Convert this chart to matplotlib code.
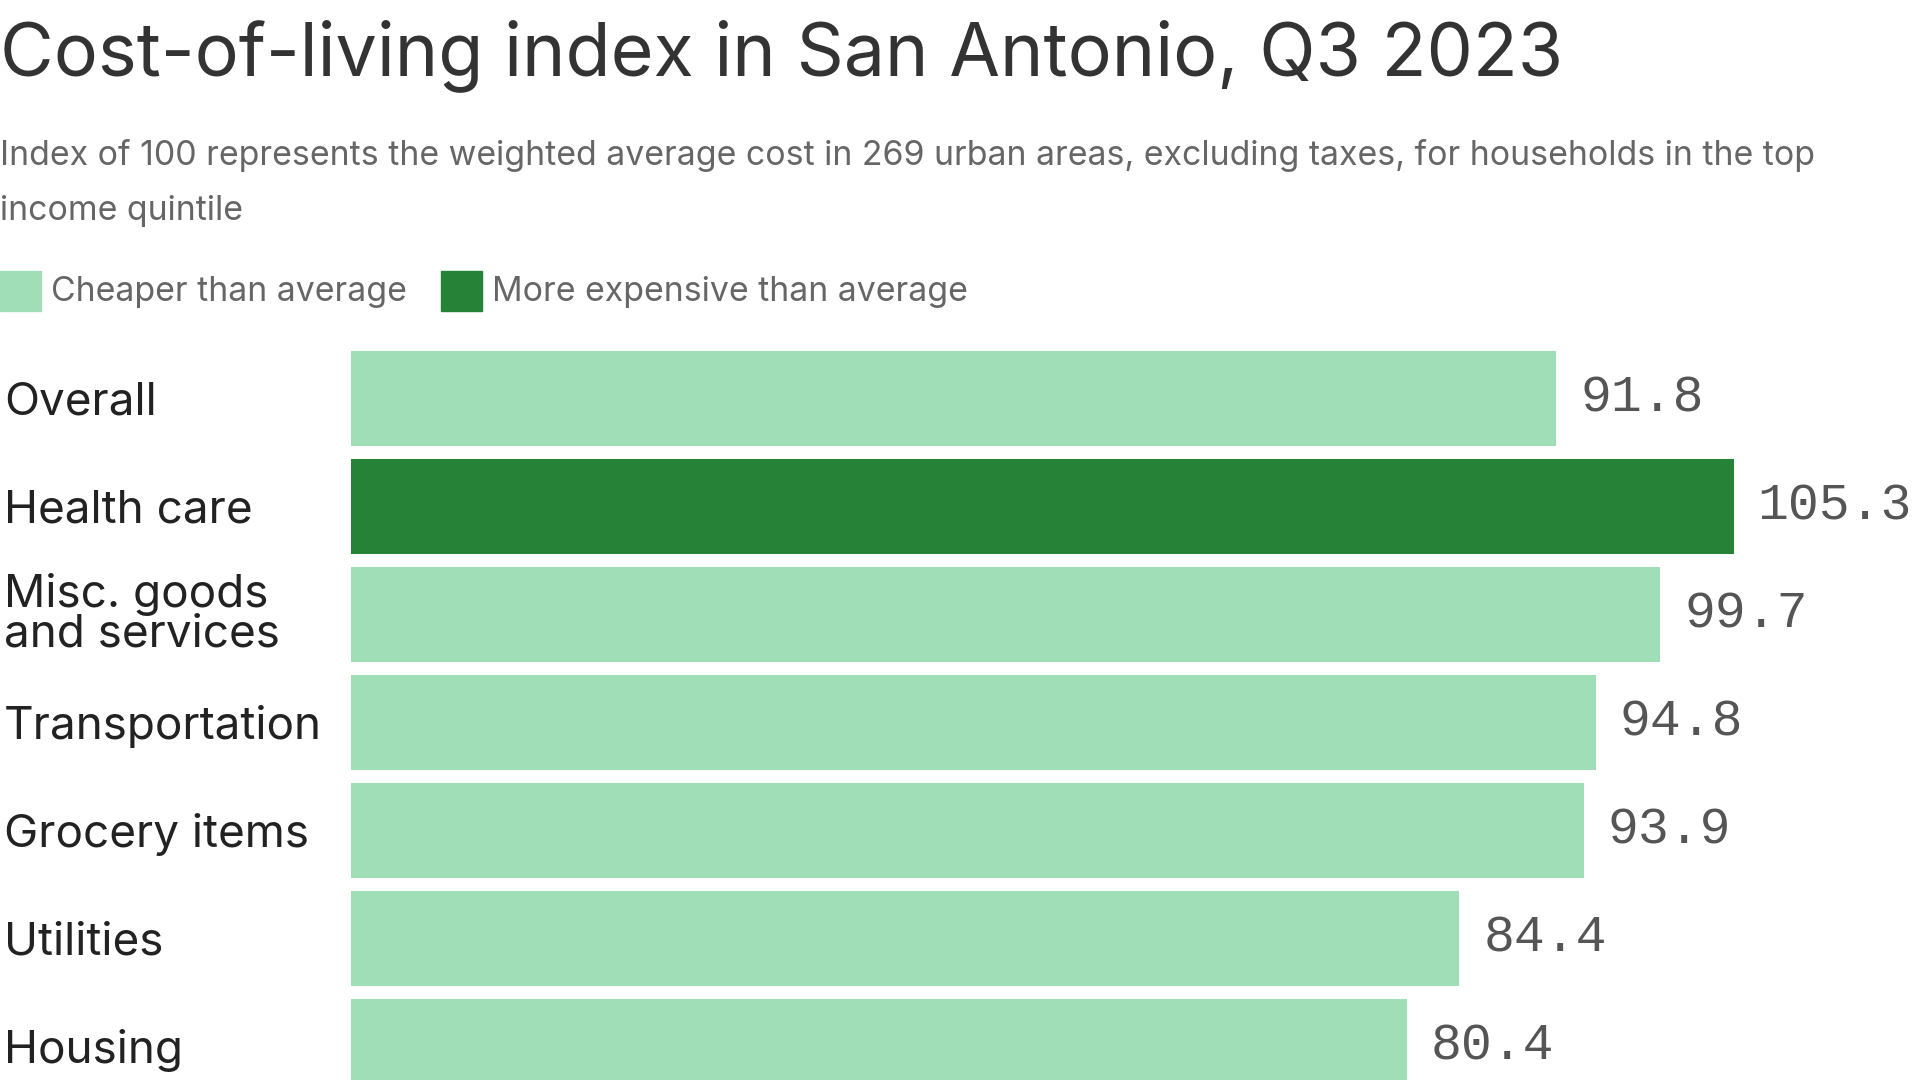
import matplotlib
matplotlib.use("Agg")
import matplotlib.pyplot as plt
from matplotlib.patches import Rectangle

categories = ["Overall", "Health care", "Misc. goods\nand services", "Transportation",
              "Grocery items", "Utilities", "Housing"]
values = [91.8, 105.3, 99.7, 94.8, 93.9, 84.4, 80.4]
value_labels = ["91.8", "105.3", "99.7", "94.8", "93.9", "84.4", "80.4"]
legend_labels = ["Cheaper than average", "More expensive than average"]
title = "Cost-of-living index in San Antonio, Q3 2023"
subtitle = ("Index of 100 represents the weighted average cost in 269 urban areas, excluding taxes, for households in the top\n"
            "income quintile")

LIGHT = "#9fdeb6"
DARK = "#268237"
FONT = "Inter"

W, H = 1920, 1080
fig = plt.figure(figsize=(19.2, 10.8), dpi=100)

left_px = 351
ax = fig.add_axes([left_px / W, 0, 1 - left_px / W, 1])
px_per_unit = 13.13
ax.set_xlim(0, (W - left_px) / px_per_unit)
pitch = 108.0
first_center = 398.5
ax.set_ylim((H - first_center) / pitch, -first_center / pitch)
ax.axis("off")

colors = [DARK if v > 100 else LIGHT for v in values]
ys = list(range(len(categories)))
ax.barh(ys, values, height=95 / pitch, color=colors, edgecolor="none")

gap = 24 / px_per_unit
for y, v, lab in zip(ys, values, value_labels):
    ax.text(v + gap, y, lab, ha="left", va="center",
            fontsize=37, family="Liberation Mono", color="#555555")

# category labels in figure coords aligned to bar centers
for y, cat in zip(ys, categories):
    off = 0 if "\n" in cat else 4
    ypx = first_center + pitch * y + off
    fig.text(4 / W, 1 - ypx / H, cat, ha="left", va="center", fontsize=33,
             family=FONT, color="#222222", linespacing=0.92)

fig.text(0, 1 - 56 / H, title, ha="left", va="center", fontsize=53, family=FONT,
         color="#333333")
fig.text(0, 1 - 183 / H, subtitle, ha="left", va="center", fontsize=24.4, family=FONT,
         color="#666666", linespacing=1.9)

# legend
sw = 41
for x0, col, lab in [(0, LIGHT, legend_labels[0]), (441, DARK, legend_labels[1])]:
    fig.patches.append(Rectangle((x0 / W, 1 - 311 / H), sw / W, 40 / H,
                                 transform=fig.transFigure, color=col))
    fig.text((x0 + sw + 10) / W, 1 - 292 / H, lab, ha="left", va="center",
             fontsize=24.4, family=FONT, color="#666666")

fig.savefig("out.png", dpi=100)
